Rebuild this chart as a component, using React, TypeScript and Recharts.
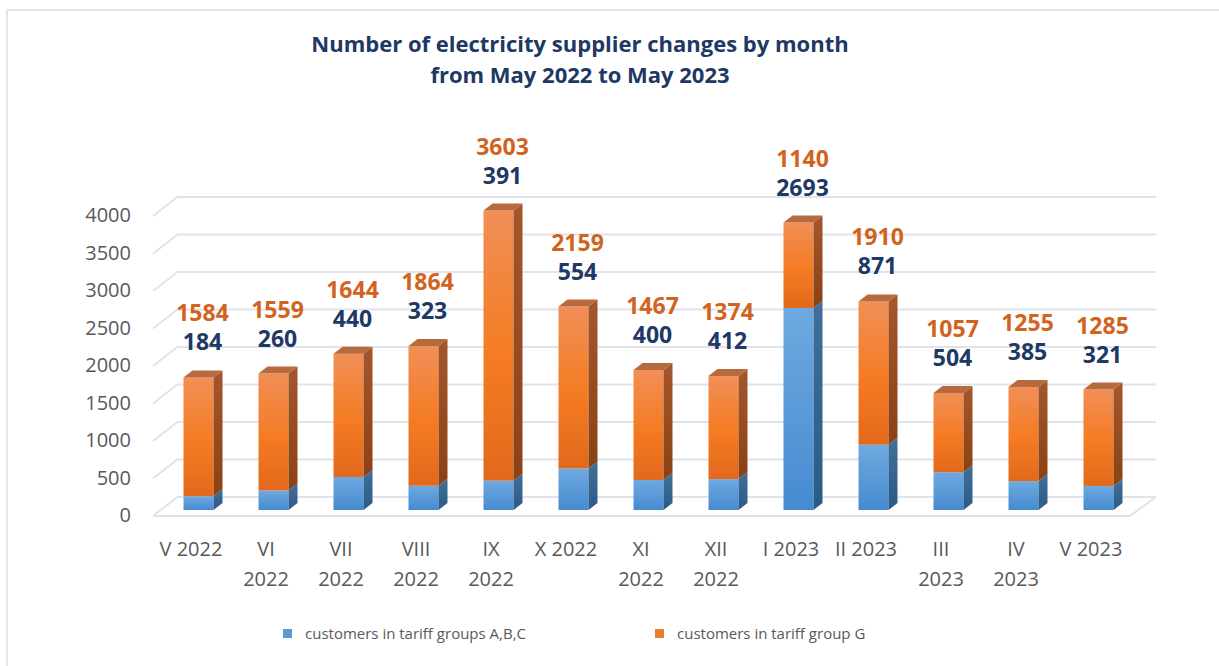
import React from "react";
import { BarChart, Bar, XAxis, YAxis, CartesianGrid, LabelList, ReferenceLine } from "recharts";

const months = [
  "V 2022", "VI\n2022", "VII\n2022", "VIII\n2022", "IX\n2022", "X 2022", "XI\n2022",
  "XII\n2022", "I 2023", "II 2023", "III\n2023", "IV\n2023", "V 2023",
];
const abcValues = [184, 260, 440, 323, 391, 554, 400, 412, 2693, 871, 504, 385, 321];
const gValues = [1584, 1559, 1644, 1864, 3603, 2159, 1467, 1374, 1140, 1910, 1057, 1255, 1285];
const yTicks = [0, 500, 1000, 1500, 2000, 2500, 3000, 3500, 4000];
const seriesNames = ["customers in tariff groups A,B,C", "customers in tariff group G"];
const seriesColors = ["#5B9BD5", "#ED7D31"];

const data = months.map((month, i) => ({ month, abc: abcValues[i], g: gValues[i] }));

const FONT = '"Open Sans", sans-serif';
const NAVY = "#203864";
const GREY = "#595959";
const GRID = "#e0e4ea";
const DX = 9; // bar depth
const DY = 7;

// horizontal grid drawn as side wall diagonal + back wall line
const gridLine = (p: any) => {
  const { x1, x2, y1 } = p;
  const d = `M${x1 - 7.5},${y1 + 6} L${x1 + 17},${y1 - 13} L${x2 + 20.5},${y1 - 13}`;
  return <path key={p.key ?? `g-${y1}`} d={d} fill="none" stroke={GRID} strokeWidth={2} />;
};

const floorShape = (p: any) => {
  const { x1, x2, y1 } = p;
  const d = `M${x1 - 7.5},${y1 + 6} L${x2 - 5.5},${y1 + 6} L${x2 + 20.5},${y1 - 13}`;
  return <path d={d} fill="none" stroke={GRID} strokeWidth={2} />;
};

const makeShape = (front: string, side: string, topColor?: string) => (p: any) => {
  const x = Number(p.x), y = Number(p.y), w = Number(p.width), h = Number(p.height);
  if (!h) return <g />;
  return (
    <g>
      <rect x={x} y={y} width={w} height={h} fill={`url(#${front})`} />
      <path
        d={`M${x + w},${y} L${x + w + DX},${y - DY} L${x + w + DX},${y + h - DY} L${x + w},${y + h} Z`}
        fill={`url(#${side})`}
      />
      {topColor && (
        <path d={`M${x},${y} L${x + DX},${y - DY} L${x + w + DX},${y - DY} L${x + w},${y} Z`} fill={topColor} />
      )}
    </g>
  );
};

const valueLabel = (offset: number, color: string) => (p: any) => {
  const x = Number(p.x), y = Number(p.y), w = Number(p.width);
  return (
    <text
      x={x + w / 2 + 4}
      y={y + offset}
      dy="0.35em"
      textAnchor="middle"
      fill={color}
      fontSize={23}
      fontWeight={700}
      fontFamily={FONT}
    >
      {p.value}
    </text>
  );
};

const MonthTick = (p: any) => {
  const lines = String(p.payload.value).split("\n");
  return (
    <text textAnchor="middle" fill={GREY} fontSize={20} fontFamily={FONT}>
      {lines.map((l, i) => (
        <tspan key={i} x={p.x - 7} y={p.y + 37 + i * 30} dy="0.35em">
          {l}
        </tspan>
      ))}
    </text>
  );
};

const ValueTick = (p: any) => (
  <text x={p.x} y={p.y + 5} dy="0.35em" textAnchor="end" fill={GREY} fontSize={20} fontFamily={FONT}>
    {p.payload.value}
  </text>
);

export default function App() {
  return (
    <div style={{ position: "absolute", left: 0, top: 0, width: 1219, height: 666, background: "#fff", overflow: "hidden" }}>
      <div
        style={{
          position: "absolute", left: 6, top: 9, width: 1240, height: 700,
          borderTop: "2px solid #e3e6ec", borderLeft: "2px solid #e3e6ec",
        }}
      />
      <div
        style={{
          position: "absolute", left: 0, width: 1160, top: 28, textAlign: "center",
          fontFamily: FONT, fontWeight: 700, fontSize: 22, lineHeight: "31px", color: NAVY,
        }}
      >
        Number of electricity supplier changes by month
        <br />
        from May 2022 to May 2023
      </div>
      <div style={{ position: "absolute", left: 0, top: 0 }}>
        <BarChart
          width={1219}
          height={666}
          data={data}
          margin={{ top: 210, right: 83.5, bottom: 96, left: 100.5 }}
          barSize={30}
        >
          <defs>
            <linearGradient id="blueFront" x1="0" y1="0" x2="0" y2="1">
              <stop offset="0%" stopColor="#6EA9E0" />
              <stop offset="100%" stopColor="#468BD0" />
            </linearGradient>
            <linearGradient id="blueSide" x1="0" y1="0" x2="0" y2="1">
              <stop offset="0%" stopColor="#416F9C" />
              <stop offset="100%" stopColor="#2C5A87" />
            </linearGradient>
            <linearGradient id="orangeFront" x1="0" y1="0" x2="0" y2="1">
              <stop offset="0%" stopColor="#F18F57" />
              <stop offset="55%" stopColor="#F47B22" />
              <stop offset="100%" stopColor="#E2691C" />
            </linearGradient>
            <linearGradient id="orangeSide" x1="0" y1="0" x2="0" y2="1">
              <stop offset="0%" stopColor="#A4562C" />
              <stop offset="100%" stopColor="#8B4213" />
            </linearGradient>
          </defs>
          <CartesianGrid horizontal={gridLine} vertical={false} />
          <ReferenceLine y={0} shape={floorShape} />
          <XAxis
            dataKey="month"
            axisLine={false}
            tickLine={false}
            tickSize={0}
            height={60}
            interval={0}
            tick={MonthTick}
          />
          <YAxis
            domain={[0, 4000]}
            ticks={yTicks}
            axisLine={false}
            tickLine={false}
            tickSize={0}
            tickMargin={29.5}
            width={60}
            tick={ValueTick}
          />
          <Bar
            dataKey="abc"
            name={seriesNames[0]}
            stackId="s"
            fill={seriesColors[0]}
            isAnimationActive={false}
            shape={makeShape("blueFront", "blueSide")}
          />
          <Bar
            dataKey="g"
            name={seriesNames[1]}
            stackId="s"
            fill={seriesColors[1]}
            isAnimationActive={false}
            shape={makeShape("orangeFront", "orangeSide", "#B76A3E")}
          >
            <LabelList dataKey="g" content={valueLabel(-64, "#D2631D")} />
            <LabelList dataKey="abc" content={valueLabel(-35, NAVY)} />
          </Bar>
        </BarChart>
      </div>
      {seriesNames.map((name, i) => (
        <div
          key={name}
          style={{
            position: "absolute", left: i === 0 ? 283 : 655, top: 623, height: 20,
            display: "flex", alignItems: "center", fontFamily: FONT, fontSize: 15, color: GREY,
          }}
        >
          <span style={{ width: 9, height: 9, background: seriesColors[i], marginRight: 13, display: "inline-block" }} />
          {name}
        </div>
      ))}
    </div>
  );
}
